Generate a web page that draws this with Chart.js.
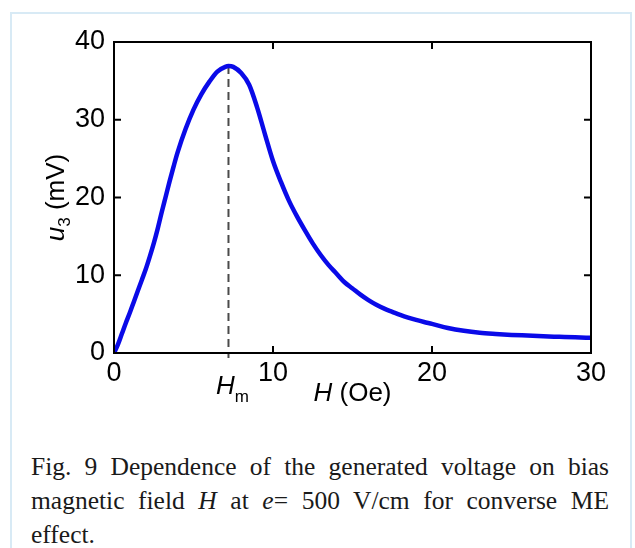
<!DOCTYPE html>
<html>
<head>
<meta charset="utf-8">
<script src="https://cdn.jsdelivr.net/npm/chart.js@4.4.1/dist/chart.umd.min.js"></script>
<style>
  body { margin: 0; background: #fff; width: 635px; height: 548px; overflow: hidden; position: relative; }
  #frame { position: absolute; left: 10px; top: 12px; width: 618px; height: 560px; border: 2px solid #d8eaf5; }
  #chartBox { position: absolute; left: 0; top: 0; width: 635px; height: 430px; }
  #caption {
    position: absolute; left: 31px; top: 450px; width: 578px;
    font-family: "Liberation Serif", "Times New Roman", serif; font-size: 25.5px; line-height: 34px;
    color: #1a1a1a; text-align: justify;
  }
</style>
</head>
<body>
<div id="frame"></div>
<div id="chartBox"><canvas id="fieldChart" width="635" height="430"></canvas></div>
<div id="caption">Fig. 9 Dependence of the generated voltage on bias magnetic field <i>H</i> at <i>e</i>= 500 V/cm for converse ME effect.</div>
<script>
// bias field H (Oe) and generated voltage u3 (mV)
var fieldOe = [0, 0.25, 0.5, 0.75, 1.0, 1.25, 1.5, 1.75, 2.0, 2.25, 2.5, 2.75, 3.0, 3.25, 3.5, 3.75,
    4.0, 4.5, 5.0, 5.5, 6.0, 6.5, 7.0, 7.2, 7.5, 8.0, 8.5, 9.0, 9.5, 10.0, 10.5, 11.0, 11.5,
    12.0, 12.5, 13.0, 13.5, 14.0, 14.5, 15.0, 15.5, 16.0, 16.5, 17.0, 17.5, 18.0, 18.5, 19.0,
    19.5, 20, 21, 22, 23, 24, 25, 26, 27, 28, 29, 30];
var voltageMv = [0, 1.1, 2.5, 3.9, 5.2, 6.6, 8.0, 9.4, 10.8, 12.4, 14.1, 16.0, 18.1, 20.1, 22.1, 24.0,
    25.8, 28.8, 31.3, 33.3, 34.9, 36.2, 36.8, 36.9, 36.8, 36.0, 34.5, 31.6, 28.1, 24.7, 22.0, 19.6, 17.6,
    15.8, 14.1, 12.6, 11.3, 10.2, 9.1, 8.3, 7.5, 6.8, 6.2, 5.7, 5.3, 4.9, 4.55, 4.25,
    3.98, 3.74, 3.22, 2.85, 2.6, 2.45, 2.33, 2.24, 2.15, 2.08, 2.01, 1.95];
var xTicks = [0, 10, 20, 30];
var yTicks = [0, 10, 20, 30, 40];
var peakField = 7.2;
var peakVoltage = 36.9;

var sansFont = '"Liberation Sans", Arial, sans-serif';

function drawParts(ctx, parts, cx, baseY) {
    var total = 0;
    parts.forEach(function (p) {
        ctx.font = p.font;
        p.w = ctx.measureText(p.text).width;
        total += p.w;
    });
    var px = cx - total / 2;
    parts.forEach(function (p) {
        ctx.font = p.font;
        ctx.fillText(p.text, px, baseY + (p.dy || 0));
        px += p.w;
    });
}

var frameAndLabels = {
    id: 'frameAndLabels',
    beforeDatasetsDraw: function (chart) {
        var ctx = chart.ctx, a = chart.chartArea;
        var hx = chart.scales.x.getPixelForValue(peakField);
        ctx.save();
        ctx.strokeStyle = '#4a4a4a';
        ctx.lineWidth = 2;
        ctx.setLineDash([8, 5]);
        ctx.beginPath();
        ctx.moveTo(hx, chart.scales.y.getPixelForValue(peakVoltage));
        ctx.lineTo(hx, a.bottom + 5);
        ctx.stroke();
        ctx.restore();
    },
    afterDraw: function (chart) {
        var ctx = chart.ctx, a = chart.chartArea;
        var x = chart.scales.x, y = chart.scales.y;
        ctx.save();
        ctx.strokeStyle = '#000';
        ctx.lineWidth = 2;
        ctx.strokeRect(a.left, a.top, a.right - a.left, a.bottom - a.top);
        ctx.beginPath();
        xTicks.slice(1, -1).forEach(function (v) {
            var px = x.getPixelForValue(v);
            ctx.moveTo(px, a.bottom); ctx.lineTo(px, a.bottom - 7);
            ctx.moveTo(px, a.top); ctx.lineTo(px, a.top + 7);
        });
        yTicks.slice(1, -1).forEach(function (v) {
            var py = y.getPixelForValue(v);
            ctx.moveTo(a.left, py); ctx.lineTo(a.left + 7, py);
            ctx.moveTo(a.right, py); ctx.lineTo(a.right - 7, py);
        });
        ctx.stroke();

        ctx.fillStyle = '#000';
        ctx.textAlign = 'left';
        ctx.textBaseline = 'alphabetic';
        // H_m under the dashed line
        var hx = x.getPixelForValue(peakField);
        drawParts(ctx, [
            { text: 'H', font: 'italic 26px ' + sansFont },
            { text: 'm', font: '17px ' + sansFont, dy: 8 }
        ], hx + 4, a.bottom + 41);
        // x axis title
        drawParts(ctx, [
            { text: 'H', font: 'italic 26px ' + sansFont },
            { text: ' (Oe)', font: '26px ' + sansFont }
        ], (a.left + a.right) / 2, a.bottom + 48);
        // y axis title, rotated
        ctx.translate(57, (a.top + a.bottom) / 2);
        ctx.rotate(-Math.PI / 2);
        ctx.textBaseline = 'middle';
        drawParts(ctx, [
            { text: 'u', font: 'italic 26px ' + sansFont },
            { text: '3', font: '17px ' + sansFont, dy: 8 },
            { text: ' (mV)', font: '26px ' + sansFont }
        ], 0, 0);
        ctx.restore();
    }
};

var points = fieldOe.map(function (h, i) {
    return { x: h, y: voltageMv[i] };
});

var ctx = document.getElementById('fieldChart').getContext('2d');
var fieldChart = new Chart(ctx, {
    type: 'scatter',
    data: {
        datasets: [{
            data: points,
            showLine: true,
            borderColor: '#0a0ae8',
            backgroundColor: '#0a0ae8',
            borderWidth: 4.5,
            pointRadius: 0,
            cubicInterpolationMode: 'monotone'
        }]
    },
    options: {
        responsive: false,
        animation: false,
        layout: { padding: { top: 42, right: 44, left: 0, bottom: 0 } },
        plugins: {
            legend: { display: false },
            tooltip: { enabled: false }
        },
        scales: {
            x: {
                type: 'linear',
                min: 0,
                max: 30,
                afterBuildTicks: function (scale) {
                    scale.ticks = xTicks.map(function (v) { return { value: v }; });
                },
                ticks: { color: '#000', padding: 4, font: { family: sansFont, size: 27 } },
                grid: { display: false, drawTicks: false },
                border: { display: false },
                afterFit: function (scale) { scale.height = 77; }
            },
            y: {
                type: 'linear',
                min: 0,
                max: 40,
                afterBuildTicks: function (scale) {
                    scale.ticks = yTicks.map(function (v) { return { value: v }; });
                },
                ticks: { color: '#000', padding: 9, font: { family: sansFont, size: 27 } },
                grid: { display: false, drawTicks: false },
                border: { display: false },
                afterFit: function (scale) { scale.width = 114; }
            }
        }
    },
    plugins: [frameAndLabels]
});
</script>
</body>
</html>
